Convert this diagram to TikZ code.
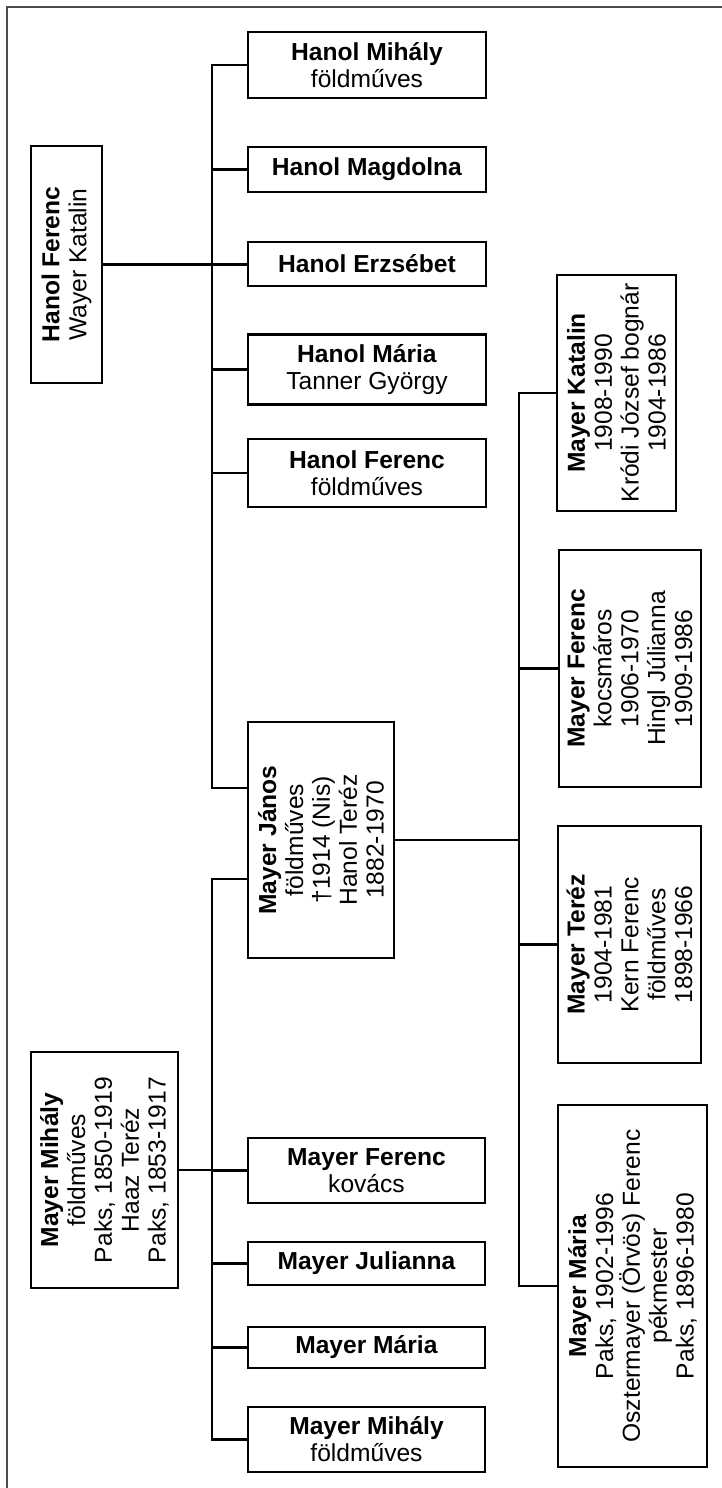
\documentclass[tikz,border=0pt]{standalone}
\usepackage{fontspec}
\setmainfont{Liberation Sans}
\usetikzlibrary{positioning}

\begin{document}
\begin{tikzpicture}[x=0.02cm,y=-0.02cm,
		box/.style 2 args={draw,line width=1.4pt,inner sep=0pt,align=center,minimum width=#1*0.02cm,minimum height=#2*0.02cm,font=\fontsize{14}{15.3}\selectfont},
		vbox/.style 2 args={box={#2}{#1},rotate=90},
		link/.style={line width=1.3pt}]
		\useasboundingbox (0,0) rectangle (722,1488);
		\draw[line width=1.3pt,black!70] (7,1488) -- (7,7) -- (722,7);
		\node[vbox={71}{237}] (hferenc) at (66.5,264.5) {\textbf{Hanol Ferenc}\\Wayer Katalin};
		\node[box={238}{66}] (hmihaly) at (367,65) {\textbf{Hanol Mihály}\\földműves};
		\node[box={238}{45}] (hmagdolna) at (367,169.5) {\textbf{Hanol Magdolna}};
		\node[box={238}{44}] (herzsebet) at (367,264) {\textbf{Hanol Erzsébet}};
		\node[box={238}{70}] (hmaria) at (367,369.5) {\textbf{Hanol Mária}\\Tanner György};
		\node[box={238}{68}] (hferenc2) at (367,473) {\textbf{Hanol Ferenc}\\földműves};
		\node[vbox={146}{236}] (mjanos) at (321,840) {\textbf{Mayer János}\\földműves\\†1914 (Nis)\\Hanol Teréz\\1882-1970};
		\node[vbox={147}{236}] (mmihaly) at (104.5,1170) {\textbf{Mayer Mihály}\\földműves\\Paks, 1850-1919\\Haaz Teréz\\Paks, 1853-1917};
		\node[box={237}{65}] (mferenc) at (366.5,1170.5) {\textbf{Mayer Ferenc}\\kovács};
		\node[box={237}{43}] (mjulianna) at (366.5,1263.5) {\textbf{Mayer Julianna}};
		\node[box={237}{41}] (mmaria) at (366.5,1347.5) {\textbf{Mayer Mária}};
		\node[box={237}{65}] (mmihaly2) at (366.5,1439.5) {\textbf{Mayer Mihály}\\földműves};
		\node[vbox={119}{236}] (mkatalin) at (616.5,393) {\textbf{Mayer Katalin}\\1908-1990\\Kródi József bognár\\1904-1986};
		\node[vbox={142}{237}] (mferenc3) at (630,668.5) {\textbf{Mayer Ferenc}\\kocsmáros\\1906-1970\\Hingl Júlianna\\1909-1986};
		\node[vbox={143}{237}] (mterez) at (629.5,944.5) {\textbf{Mayer Teréz}\\1904-1981\\Kern Ferenc\\földműves\\1898-1966};
		\node[vbox={149}{362}] (mmaria2) at (632.5,1286) {\textbf{Mayer Mária}\\Paks, 1902-1996\\Osztermayer (Örvös) Ferenc\\pékmester\\Paks, 1896-1980};
		\coordinate (hbus) at (212,0);
		\coordinate (mbus) at (212,0);
		\coordinate (jbus) at (519,0);
		\coordinate (jup) at (248,788);
		\coordinate (jdown) at (248,879);
		\draw[link] (hferenc.south) -- (hferenc.south -| herzsebet.west);
		\draw[link] (hmihaly.west) -| (jup -| hbus) -- (jup);
		\foreach \n in {hmagdolna,herzsebet,hmaria,hferenc2}
			\draw[link] (\n.west) -- (\n.west -| hbus);
		\draw[link] (jdown) -| (mmihaly2.west -| mbus) -- (mmihaly2.west);
		\foreach \n in {mferenc,mjulianna,mmaria}
			\draw[link] (\n.west) -- (\n.west -| mbus);
		\draw[link] (mmihaly.south) -- (mmihaly.south -| mferenc.west);
		\draw[link] (mjanos.south) -- (mjanos.south -| jbus);
		\draw[link] (mkatalin.north) -| (mmaria2.north -| jbus) -- (mmaria2.north);
		\foreach \n in {mferenc3,mterez}
			\draw[link] (\n.north) -- (\n.north -| jbus);
\end{tikzpicture}
\end{document}
